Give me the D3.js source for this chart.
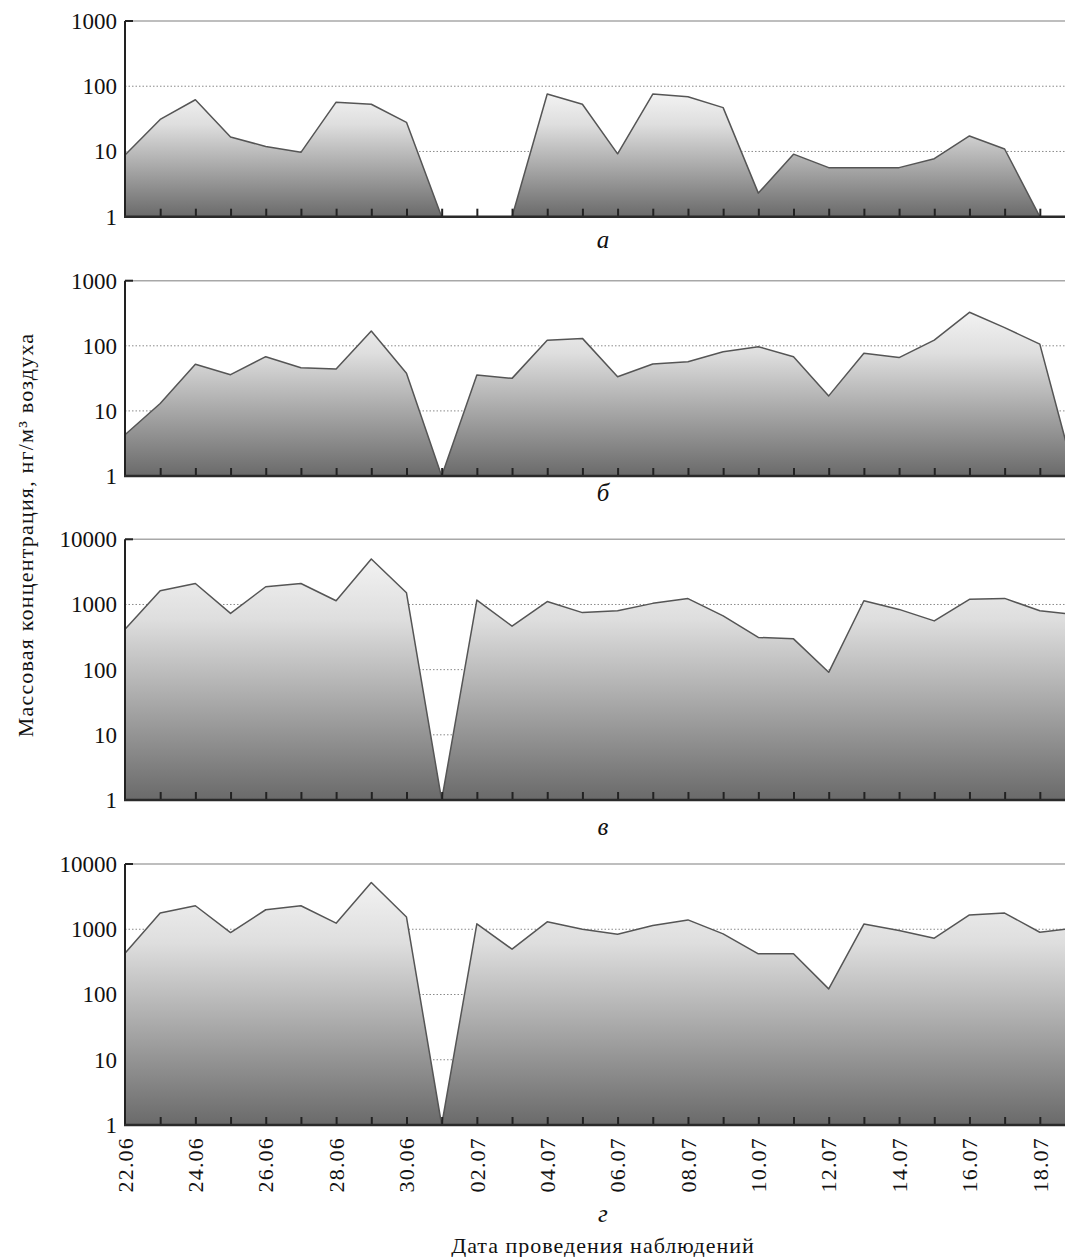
<!DOCTYPE html>
<html>
<head>
<meta charset="utf-8">
<script src="https://cdn.jsdelivr.net/npm/d3@7"></script>
<style>
  html, body { margin: 0; padding: 0; background: #fff; }
  text { font-family: "Liberation Serif", "DejaVu Serif", serif; fill: #111; }
</style>
</head>
<body>
<svg id="chart" width="1065" height="1257"></svg>
<script>
// ---- data ----
const dates = ["22.06","23.06","24.06","25.06","26.06","27.06","28.06","29.06","30.06",
  "01.07","02.07","03.07","04.07","05.07","06.07","07.07","08.07","09.07","10.07",
  "11.07","12.07","13.07","14.07","15.07","16.07","17.07","18.07","19.07"];
const tickLabelDates = ["22.06","24.06","26.06","28.06","30.06","02.07","04.07","06.07",
  "08.07","10.07","12.07","14.07","16.07","18.07"];
const seriesA = [8.8, 31, 62, 16.7, 11.9, 9.7, 57, 53, 28, 1, 1, 1, 76, 53, 9.2, 76, 69, 47,
  2.3, 9.1, 5.65, 5.65, 5.65, 7.75, 17.3, 10.9, 1, 1];
const seriesB = [4.3, 13, 52, 36, 68, 46, 44, 169, 38, 1, 35.5, 31.6, 122, 130, 33.5, 52.5, 57,
  81, 97, 68, 17, 77, 66, 122, 327, 190, 106, 1];
const seriesC = [415, 1620, 2100, 730, 1870, 2100, 1140, 5000, 1510, 1, 1170, 465, 1110, 750,
  800, 1040, 1230, 670, 312, 297, 91, 1140, 840, 560, 1200, 1240, 800, 700];
const seriesD = [430, 1770, 2290, 890, 1990, 2290, 1240, 5200, 1540, 1, 1210, 495, 1300, 1000,
  840, 1140, 1390, 850, 420, 420, 122, 1200, 960, 730, 1660, 1770, 900, 1040];
const ticksSmall = [1, 10, 100, 1000];
const ticksLarge = [1, 10, 100, 1000, 10000];
const panelLetters = ["а", "б", "в", "г"];
const yTitle = "Массовая концентрация, нг/м³ воздуха";
const xTitle = "Дата проведения наблюдений";

// ---- layout ----
const svg = d3.select("#chart");
const defs = svg.append("defs");
const xLeft = 125, xRight = 1075;
const x = d3.scaleLinear().domain([0, dates.length - 1]).range([xLeft, xRight]);

const panels = [
  { data: seriesA, ticks: ticksSmall, top: 21,    bottom: 216.7, letterY: 239 },
  { data: seriesB, ticks: ticksSmall, top: 280.7, bottom: 476,   letterY: 492 },
  { data: seriesC, ticks: ticksLarge, top: 539.3, bottom: 800,   letterY: 826 },
  { data: seriesD, ticks: ticksLarge, top: 864,   bottom: 1125,  letterY: 1213 }
];

panels.forEach((p, i) => {
  const g = svg.append("g");
  const maxT = p.ticks[p.ticks.length - 1];
  const y = d3.scaleLog().domain([1, maxT]).range([p.bottom, p.top]);

  const gradId = "grad" + i;
  const grad = defs.append("linearGradient").attr("id", gradId)
    .attr("x1", 0).attr("y1", 0).attr("x2", 0).attr("y2", 1);
  grad.append("stop").attr("offset", "0%").attr("stop-color", "#f2f2f2");
  grad.append("stop").attr("offset", "25%").attr("stop-color", "#dedede");
  grad.append("stop").attr("offset", "100%").attr("stop-color", "#6a6a6a");

  // gridlines
  g.append("line")
    .attr("x1", xLeft).attr("x2", 1065)
    .attr("y1", y(maxT)).attr("y2", y(maxT))
    .attr("stroke", "#a8a8a8").attr("stroke-width", 1.5);
  g.selectAll("line.grid").data(p.ticks.slice(1, -1)).enter().append("line")
    .attr("class", "grid")
    .attr("x1", xLeft).attr("x2", 1065)
    .attr("y1", d => y(d)).attr("y2", d => y(d))
    .attr("stroke", "#8a8a8a").attr("stroke-width", 1)
    .attr("stroke-dasharray", "1.5,2");

  // area + outline
  const area = d3.area()
    .x((d, j) => x(j)).y0(p.bottom).y1(d => y(d));
  const line = d3.line()
    .x((d, j) => x(j)).y(d => y(d));
  g.append("path").datum(p.data)
    .attr("d", area).attr("fill", `url(#${gradId})`);
  g.append("path").datum(p.data)
    .attr("d", line).attr("fill", "none")
    .attr("stroke", "#555").attr("stroke-width", 1.5)
    .attr("stroke-linejoin", "round");

  // y axis
  const yAxis = d3.axisLeft(y).tickValues(p.ticks).tickFormat(d3.format("d"))
    .tickSize(0).tickPadding(8);
  const ya = g.append("g").attr("transform", `translate(${xLeft},0)`).call(yAxis);
  ya.select(".domain").remove();
  ya.selectAll("text").style("font-size", "23px")
    .style("font-family", "'Liberation Serif', serif").attr("fill", "#111");
  g.append("line")
    .attr("x1", xLeft).attr("x2", xLeft)
    .attr("y1", p.top).attr("y2", p.bottom)
    .attr("stroke", "#222").attr("stroke-width", 2);
  g.append("line")
    .attr("x1", xLeft).attr("x2", xLeft + 8)
    .attr("y1", p.top).attr("y2", p.top)
    .attr("stroke", "#222").attr("stroke-width", 2);

  // x axis
  const xAxis = d3.axisBottom(x).tickValues(d3.range(1, dates.length))
    .tickSize(-8).tickFormat("");
  const xa = g.append("g").attr("transform", `translate(0,${p.bottom})`).call(xAxis);
  xa.select(".domain").remove();
  xa.selectAll(".tick line").attr("stroke", "#222").attr("stroke-width", 2);
  g.append("line")
    .attr("x1", xLeft - 1).attr("x2", 1065)
    .attr("y1", p.bottom).attr("y2", p.bottom)
    .attr("stroke", "#2a2a2a").attr("stroke-width", 2.5);

  // panel letter
  svg.append("text")
    .attr("x", 603).attr("y", p.letterY)
    .attr("text-anchor", "middle").attr("dominant-baseline", "central")
    .style("font-size", "25px").style("font-style", "italic")
    .text(panelLetters[i]);

  // date labels on last panel
  if (i === panels.length - 1) {
    svg.selectAll("text.date").data(tickLabelDates).enter().append("text")
      .attr("class", "date")
      .attr("transform", d => `translate(${x(dates.indexOf(d))},1137) rotate(-90)`)
      .attr("text-anchor", "end").attr("dy", "0.35em")
      .style("font-size", "22px").style("letter-spacing", "1.2px")
      .text(d => d);
  }
});

// titles
svg.append("text")
  .attr("transform", "translate(25,535) rotate(-90)")
  .attr("text-anchor", "middle").attr("dominant-baseline", "central")
  .style("font-size", "22px").style("letter-spacing", "1.2px")
  .text(yTitle);
svg.append("text")
  .attr("x", 603).attr("y", 1245)
  .attr("text-anchor", "middle").attr("dominant-baseline", "central")
  .style("font-size", "22px").style("letter-spacing", "1px")
  .text(xTitle);
</script>
</body>
</html>
